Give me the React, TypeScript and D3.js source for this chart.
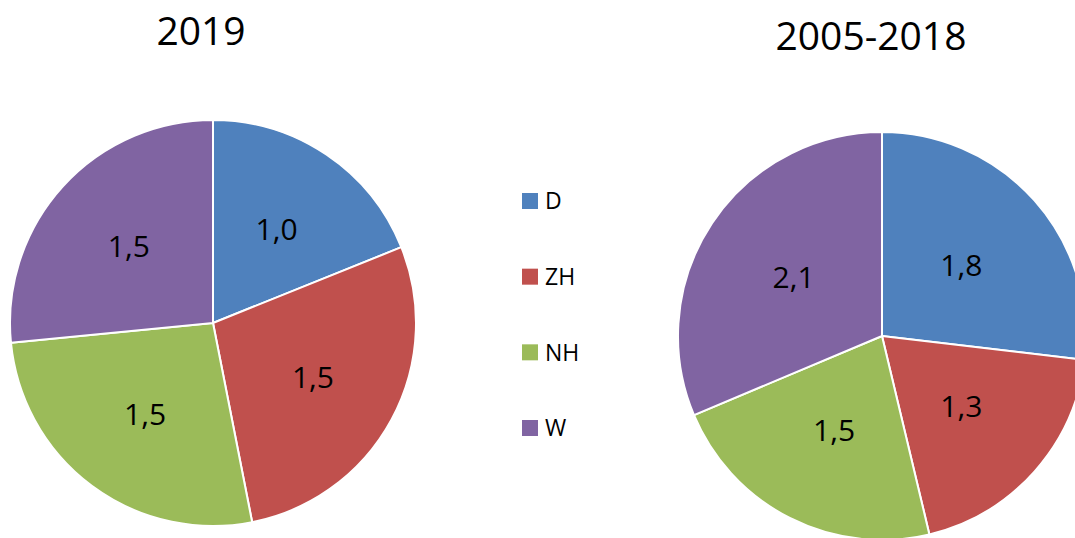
import React from 'react';
import * as d3 from 'd3';

const categories = ['D', 'ZH', 'NH', 'W'];
const values2019 = [1.04, 1.54, 1.46, 1.46];
const values2005to2018 = [1.8, 1.3, 1.5, 2.1];
const titles = ['2019', '2005-2018'];

const font = "'Open Sans', 'DejaVu Sans', sans-serif";

const color = d3.scaleOrdinal<string, string>()
  .domain(categories)
  .range(['#4f81bd', '#c0504d', '#9bbb59', '#8064a2']);

const fmt = d3.formatLocale({ decimal: ',', thousands: '.', grouping: [3], currency: ['', '€'] }).format('.1f');

function Pie({ values, cx, cy, r, labelR, title, tx, ty }: any) {
  let pie = d3.pie<number>().sort(null).value(d => d);
  let arc = d3.arc<d3.PieArcDatum<number>>().innerRadius(0).outerRadius(r);
  let labelArc = d3.arc<d3.PieArcDatum<number>>().innerRadius(r * labelR).outerRadius(r * labelR);
  let slices = pie(values);

  return (
    <g>
      <text x={tx} y={ty} textAnchor='middle' fontFamily={font} fontSize={39} fill='#000'>{title}</text>
      <g transform={'translate(' + cx + ',' + cy + ')'}>
        {slices.map((s, i) => (
          <path key={i} d={arc(s) || ''} fill={color(categories[i])} stroke='#fff' strokeWidth={2} strokeLinejoin='round' />
        ))}
        {slices.map((s, i) => {
          let [x, y] = labelArc.centroid(s);
          return (
            <text key={'l' + i} x={x} y={y} dy='0.36em' textAnchor='middle' fontFamily={font} fontSize={30} fill='#000'>
              {fmt(s.data)}
            </text>
          );
        })}
      </g>
    </g>
  );
}

export default function App() {
  let width = 1075, height = 538;

  let legendY = d3.scalePoint<string>()
    .domain(categories)
    .range([201, 428]);

  return (
    <svg width={width} height={height} style={{ position: 'absolute', left: 0, top: 0, background: '#fff' }}>
      <rect width={width} height={height} fill='#fff' />
      <Pie values={values2019} cx={213} cy={323} r={203} labelR={0.56} title={titles[0]} tx={201} ty={45} />
      <Pie values={values2005to2018} cx={882} cy={336} r={204} labelR={0.52} title={titles[1]} tx={871} ty={50} />
      <g>
        {categories.map(c => (
          <g key={c} transform={'translate(522,' + legendY(c) + ')'}>
            <rect x={0} y={-8} width={16} height={16} fill={color(c)} />
            <text x={23} y={0} dy='0.36em' fontFamily={font} fontSize={23} fill='#000'>{c}</text>
          </g>
        ))}
      </g>
    </svg>
  );
}
